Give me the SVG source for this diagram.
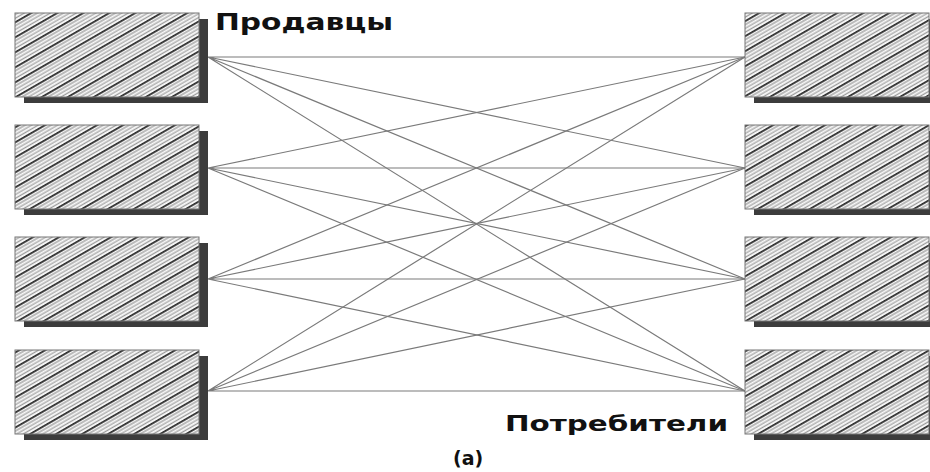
<svg xmlns="http://www.w3.org/2000/svg" width="930" height="472" viewBox="0 0 930 472">
<defs>
<pattern id="hatch" width="40" height="13" patternUnits="userSpaceOnUse" patternTransform="rotate(-30)">
<rect width="40" height="13" fill="#fafafa"/>
<rect y="0" width="40" height="1.8" fill="#2a2a2a"/>
<rect y="3.3" width="40" height="1.3" fill="#999"/>
<rect y="6.5" width="40" height="1.3" fill="#a4a4a4"/>
<rect y="9.8" width="40" height="1.3" fill="#999"/>
</pattern>
<style>
.sh{fill:#3c3c3c}
.bx{fill:url(#hatch);stroke:#777;stroke-width:1}
.ln{stroke:#7a7a7a;stroke-width:1.2;fill:none}
.lb{font-family:"DejaVu Sans","Liberation Sans",sans-serif;font-weight:bold;fill:#111}
</style>
</defs>
<rect width="930" height="472" fill="#fff"/>
<g id="connectors">
<path class="ln" d="M208 57L745 57M208 57L745 168M208 57L745 279M208 57L745 391"/>
<path class="ln" d="M208 168L745 57M208 168L745 168M208 168L745 279M208 168L745 391"/>
<path class="ln" d="M208 279L745 57M208 279L745 168M208 279L745 279M208 279L745 391"/>
<path class="ln" d="M208 391L745 57M208 391L745 168M208 391L745 279M208 391L745 391"/>
</g>
<g id="seller1"><rect class="sh" x="24" y="19" width="184" height="84"/><rect class="bx" x="15" y="13" width="184" height="84"/></g>
<g id="seller2"><rect class="sh" x="24" y="131" width="184" height="84"/><rect class="bx" x="15" y="125" width="184" height="84"/></g>
<g id="seller3"><rect class="sh" x="24" y="243" width="184" height="84"/><rect class="bx" x="15" y="237" width="184" height="84"/></g>
<g id="seller4"><rect class="sh" x="24" y="356" width="184" height="84"/><rect class="bx" x="15" y="350" width="184" height="84"/></g>
<g id="consumer1"><rect class="sh" x="754" y="19" width="184" height="84"/><rect class="bx" x="745" y="13" width="184" height="84"/></g>
<g id="consumer2"><rect class="sh" x="754" y="131" width="184" height="84"/><rect class="bx" x="745" y="125" width="184" height="84"/></g>
<g id="consumer3"><rect class="sh" x="754" y="243" width="184" height="84"/><rect class="bx" x="745" y="237" width="184" height="84"/></g>
<g id="consumer4"><rect class="sh" x="754" y="356" width="184" height="84"/><rect class="bx" x="745" y="350" width="184" height="84"/></g>
<g id="labels">
<text class="lb" x="215" y="30" font-size="23" textLength="178" lengthAdjust="spacingAndGlyphs">Продавцы</text>
<text class="lb" x="505" y="431" font-size="21" textLength="223" lengthAdjust="spacingAndGlyphs">Потребители</text>
<text class="lb" x="453" y="465" font-size="19">(a)</text>
</g>
</svg>
